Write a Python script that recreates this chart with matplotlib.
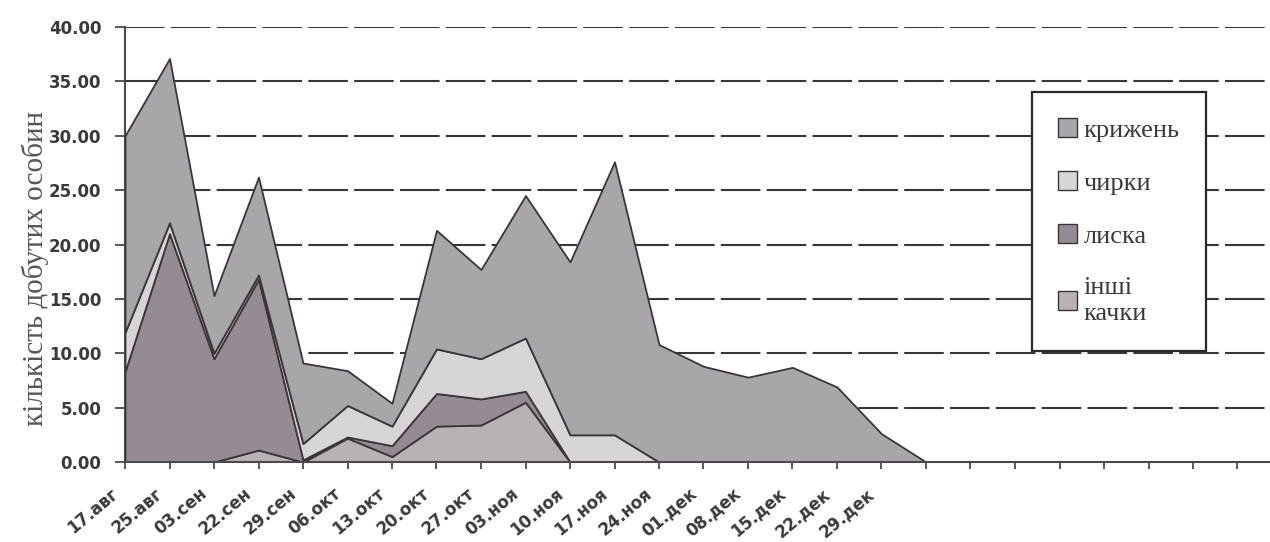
import matplotlib
matplotlib.use('Agg')
import matplotlib.pyplot as plt
from matplotlib.patches import Patch
from matplotlib.transforms import ScaledTranslation
import numpy as np

dates = ['17.авг', '25.авг', '03.сен', '22.сен', '29.сен', '06.окт', '13.окт',
         '20.окт', '27.окт', '03.ноя', '10.ноя', '17.ноя', '24.ноя', '01.дек',
         '08.дек', '15.дек', '22.дек', '29.дек', '', '', '', '', '', '', '', '']
kryzhen = [18.1, 15.1, 5.3, 9.0, 7.4, 3.2, 2.1, 10.9, 8.2, 13.1, 15.9, 25.1, 10.8,
           8.8, 7.8, 8.7, 6.9, 2.6, 0, 0, 0, 0, 0, 0, 0, 0]
chyrky = [3.6, 1.0, 0.5, 0.4, 1.5, 2.9, 1.8, 4.1, 3.7, 4.9, 2.5, 2.5, 0,
          0, 0, 0, 0, 0, 0, 0, 0, 0, 0, 0, 0, 0]
lyska = [8.3, 21.0, 9.5, 15.7, 0.2, 0.1, 1.0, 3.0, 2.4, 1.0, 0, 0, 0,
         0, 0, 0, 0, 0, 0, 0, 0, 0, 0, 0, 0, 0]
inshi = [0, 0, 0, 1.1, 0, 2.2, 0.5, 3.3, 3.4, 5.5, 0, 0, 0,
         0, 0, 0, 0, 0, 0, 0, 0, 0, 0, 0, 0, 0]
series_names = ['крижень', 'чирки', 'лиска', 'інші\nкачки']
yticks = [0, 5, 10, 15, 20, 25, 30, 35, 40]

col_kr = '#aaa5aa'
col_ch = '#d9d5d7'
col_ly = '#958b94'
col_in = '#b8b2b6'
edge = '#3a3638'

W, H = 1270, 542
fig = plt.figure(figsize=(W / 100, H / 100), dpi=100)
ax = fig.add_axes([125 / W, (H - 462) / H, (W - 125) / W, 435 / H])

x = np.arange(len(dates))
ax.stackplot(x, inshi, lyska, chyrky, kryzhen,
             colors=[col_in, col_ly, col_ch, col_kr],
             edgecolor=edge, linewidth=1.3, zorder=3)

ax.set_xlim(0, (W - 125) / 44.5)
ax.set_ylim(0, 40)
ax.set_yticks(yticks)
ax.set_yticklabels([f'{v:.2f}' for v in yticks], fontsize=12, fontweight='bold',
                   color='#3a3a3a', family='DejaVu Sans')
ax.set_xticks(x)
ax.set_xticklabels([''] * len(dates))
lab_tr = ax.get_xaxis_transform() + ScaledTranslation(-0.15, -0.225, fig.dpi_scale_trans)
for xi, d in zip(x, dates):
    if d:
        ax.text(xi, 0, d, transform=lab_tr, rotation=40, ha='right', va='top',
                rotation_mode='anchor', fontsize=12, fontweight='bold',
                color='#3a3a3a', family='DejaVu Sans', clip_on=False)

for v in yticks[1:]:
    ax.axhline(v, color='#3a3638', lw=1.5, dashes=(19, 3), zorder=1)

for s in ['top', 'right']:
    ax.spines[s].set_visible(False)
ax.spines['left'].set_color('#4a4a4a')
ax.spines['left'].set_linewidth(1.5)
ax.spines['bottom'].set_color('#4a4a4a')
ax.spines['bottom'].set_linewidth(1.5)
ax.spines['bottom'].set_zorder(5)
ax.tick_params(axis='y', length=7, width=1.3, color='#4a4a4a', pad=10)
ax.tick_params(axis='x', length=5, width=1.3, color='#4a4a4a', pad=4)
ax.set_facecolor('white')

handles = [Patch(facecolor=c, edgecolor=edge, lw=1.0) for c in [col_kr, col_ch, col_ly, col_in]]
leg = ax.legend(handles, series_names, loc='upper left',
                bbox_to_anchor=(1032 / W, 1 - 92 / H), bbox_transform=fig.transFigure,
                borderaxespad=0, frameon=True, fancybox=False, shadow=False,
                prop={'family': 'Liberation Serif', 'size': 19},
                handlelength=0.7, handleheight=0.7, handletextpad=0.25,
                labelspacing=1.12, borderpad=1.0)
leg.get_frame().set_edgecolor('#2a2a2a')
leg.get_frame().set_linewidth(1.6)
leg.get_frame().set_facecolor('white')
leg.get_frame().set_alpha(1)
leg.set_zorder(10)
for t in leg.get_texts():
    t.set_color('#3a3a3a')
    t.set_linespacing(1.2)

fig.text(35 / W, 1 - 268 / H, 'кількість добутих особин', rotation=90,
         ha='center', va='center', family='Liberation Serif', fontsize=21, color='#555555')

fig.savefig('out.png', dpi=100, facecolor='white')
